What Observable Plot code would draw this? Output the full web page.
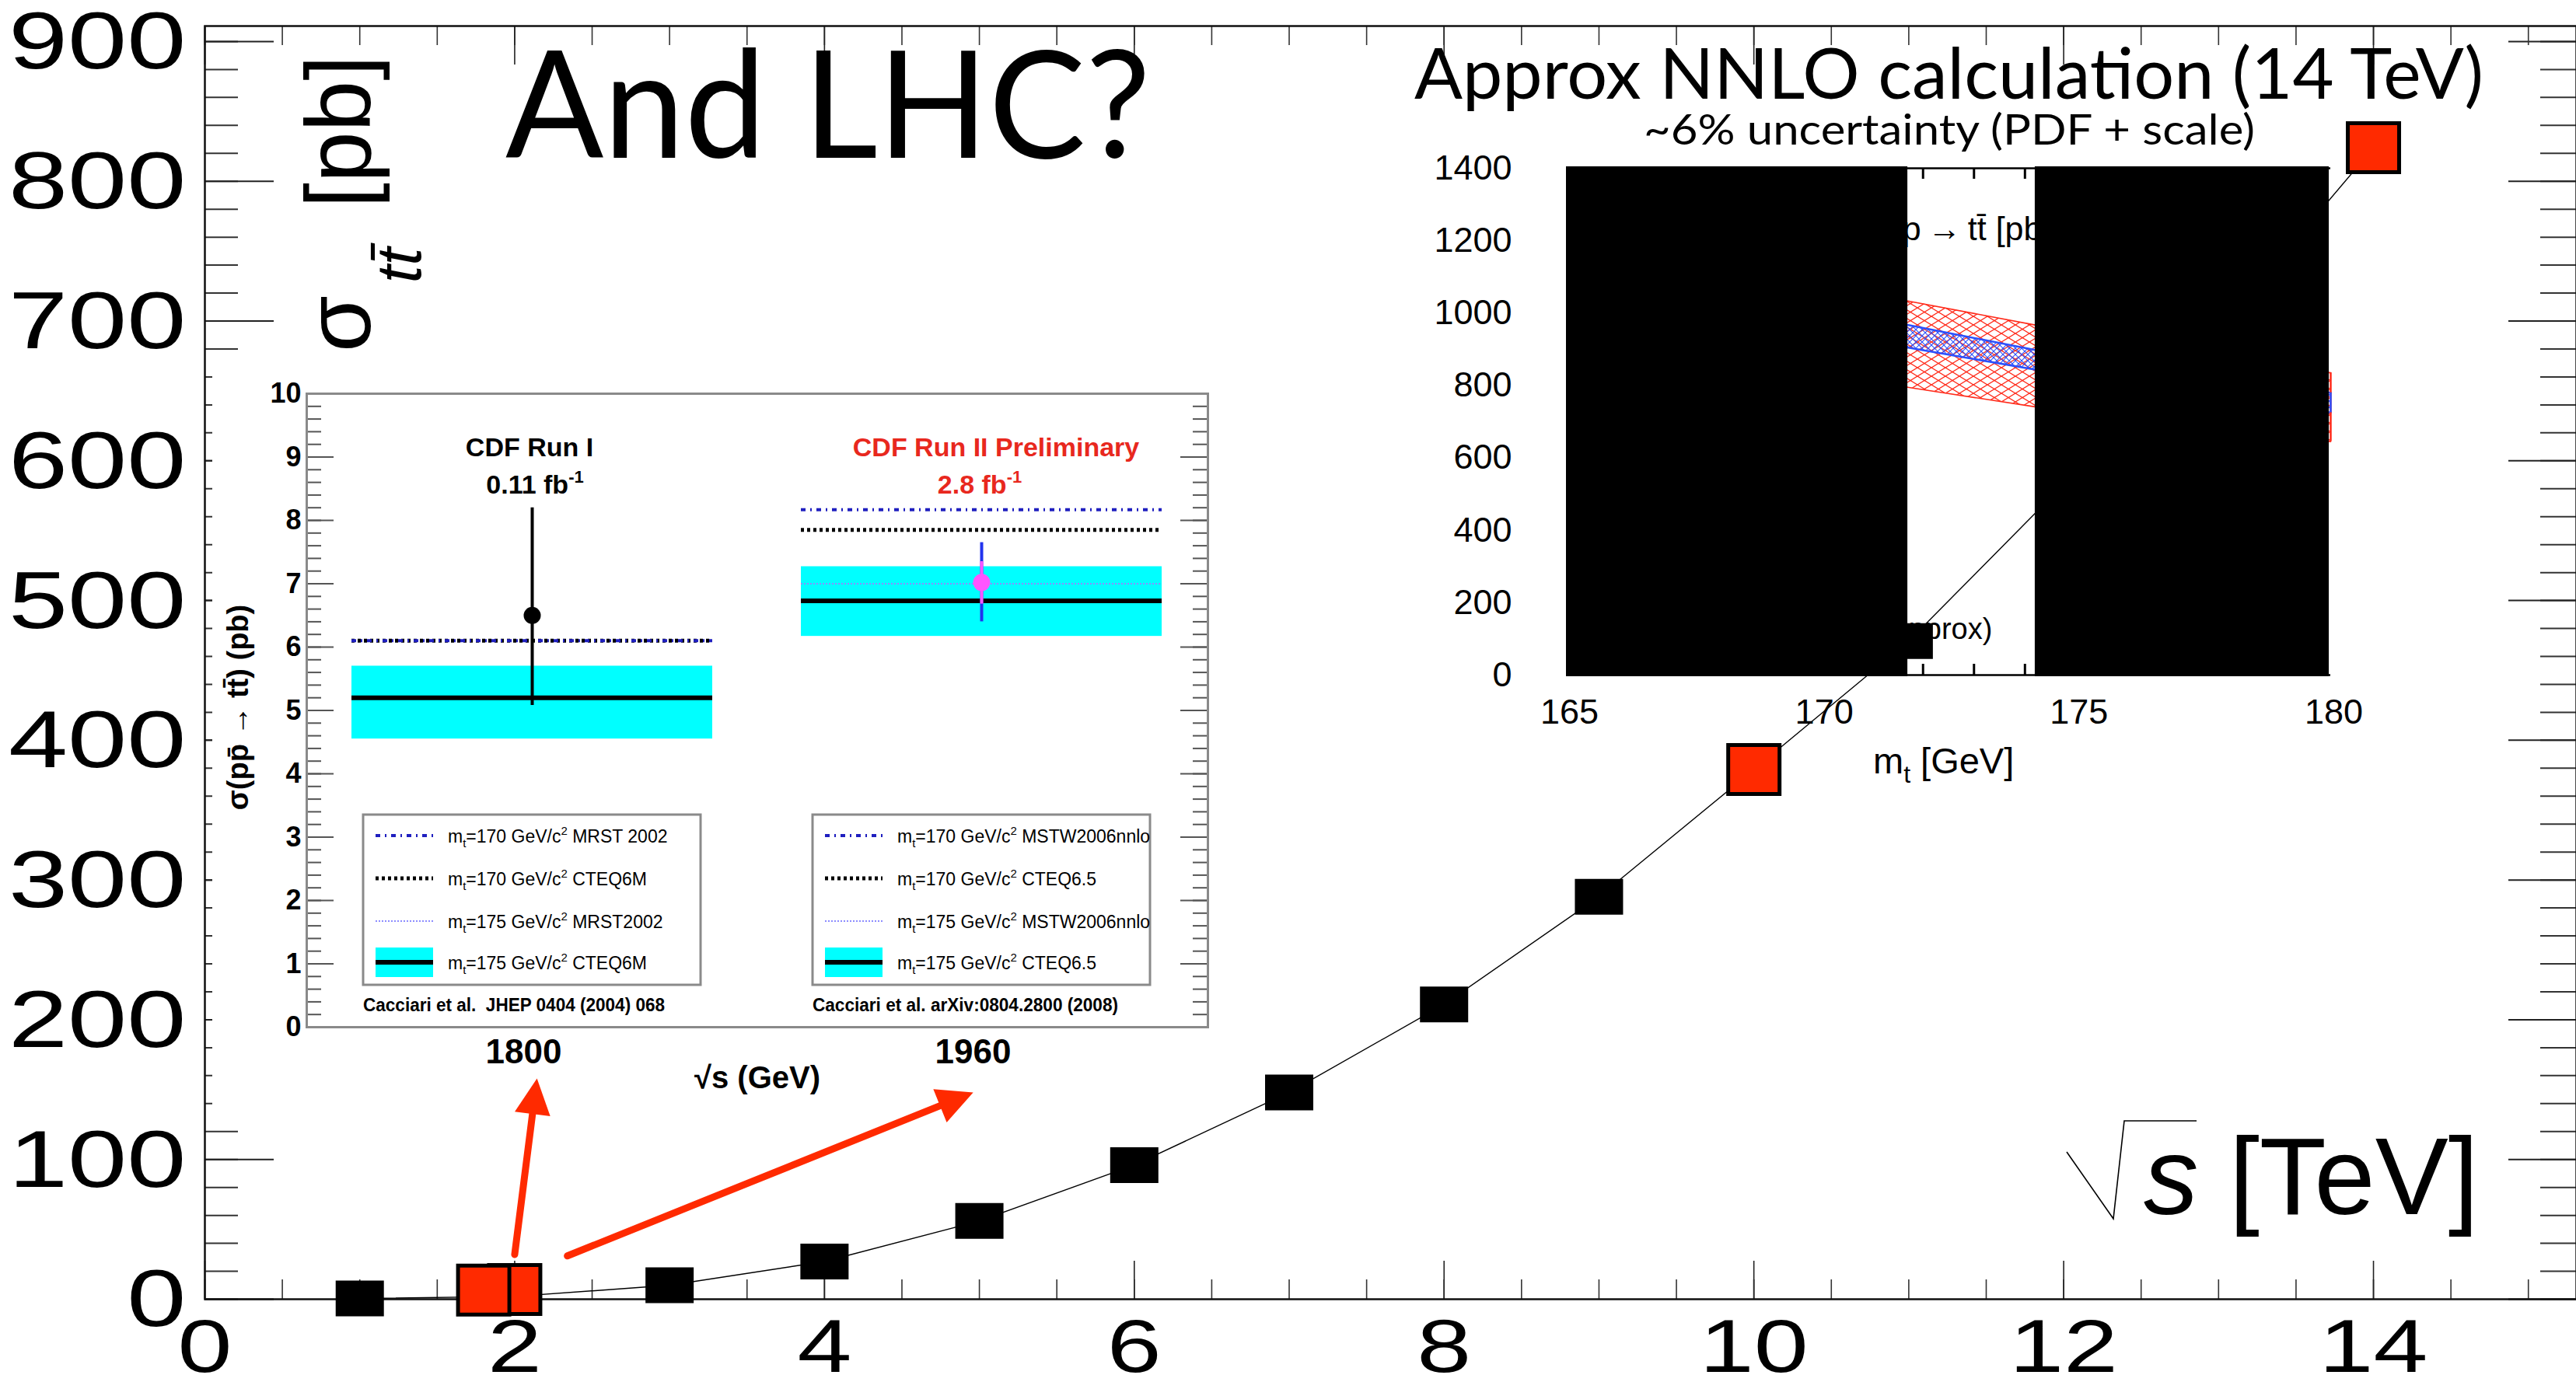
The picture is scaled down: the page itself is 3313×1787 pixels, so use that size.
<!DOCTYPE html>
<html>
<head>
<meta charset="utf-8">
<script src="https://cdn.jsdelivr.net/npm/d3@7"></script>
<script src="https://cdn.jsdelivr.net/npm/@observablehq/plot@0.6"></script>
<style>
  html, body { margin: 0; padding: 0; background: #fff; }
  #stage { position: relative; width: 3313px; height: 1787px; overflow: hidden; background: #fff; }
  #stage > svg { position: absolute; display: block; }
</style>
</head>
<body>
<svg width="0" height="0" style="position:absolute">
  <defs>
    <pattern id="scaleHatch" patternUnits="userSpaceOnUse" width="18" height="11">
      <path d="M0,0L18,11M0,11L18,0" stroke="#ff2a1a" stroke-width="1.3" fill="none"/>
    </pattern>
    <pattern id="pdfHatch" patternUnits="userSpaceOnUse" width="8" height="8">
      <path d="M0,0L8,8M0,8L8,0" stroke="#2a50ff" stroke-width="1.1" fill="none"/>
    </pattern>
  </defs>
</svg>
<div id="stage"></div>
<script>
// ---------------- main series: σ(pp → tt̄) versus √s ----------------
const energyTeV = [1, 2, 3, 4, 5, 6, 7, 8, 9, 10, 11, 12, 13, 14];
const sigmaPb   = [0.5, 2, 10, 27, 56, 96, 148, 211, 288, 379, 471, 583, 693, 824];

// highlighted points: Tevatron Run II, Run I, then 10 and 14 TeV
const markEnergy = [2.0, 1.8, 10, 14];
const markSigma  = [7.0, 6.5, 379, 824];

const xTickValues = [0, 2, 4, 6, 8, 10, 12, 14];
const yTickValues = [0, 100, 200, 300, 400, 500, 600, 700, 800, 900];

// red arrows from the Tevatron points to the CDF panel (TeV, pb)
const arrowX1 = [2.0, 2.34];
const arrowY1 = [32, 31];
const arrowX2 = [2.144, 4.96];
const arrowY2 = [158, 148];

// ---------------- CDF panel ----------------
const cdfEnergy = ["1800", "1960"];
const cteq175Lo = [4.55, 6.17];
const cteq175Hi = [5.7, 7.27];
const cteq175   = [5.2, 6.73];
const mrst175   = [5.2, 7.0];
const cteq170   = [6.1, 7.85];
const mrst170   = [6.1, 8.17];
const cdfSigma  = [6.5, 7.02];
const cdfErrLo  = [5.08, 6.4];
const cdfErrHi  = [8.2, 7.65];
const cdfStatLo = [null, 6.68];
const cdfStatHi = [null, 7.35];
const cdfYTicks = [0, 1, 2, 3, 4, 5, 6, 7, 8, 9, 10];
const legendRun1 = [["170", "MRST 2002"], ["170", "CTEQ6M"], ["175", "MRST2002"], ["175", "CTEQ6M"]];
const legendRun2 = [["170", "MSTW2006nnlo"], ["170", "CTEQ6.5"], ["175", "MSTW2006nnlo"], ["175", "CTEQ6.5"]];

// ---------------- approx NNLO panel (14 TeV) ----------------
const mtGeV   = [171.6, 174.2, 180];
const scaleLo = [797, 741, 645];
const scaleHi = [1036, 967, 835];
const pdfLo   = [907, 844, 725];
const pdfHi   = [970, 898, 780];
const hiddenFrom = [165, 174.2];
const hiddenTo   = [171.7, 179.97];
const nnloYTicks = [0, 200, 400, 600, 800, 1000, 1200, 1400];
const nnloXTicks = [165, 170, 175, 180];
const noteMt    = [174.52, 173.36];
const noteSigma = [1230, 127];

const RED = "#ff2a00";
const FONT = "'Liberation Sans', Arial, Helvetica, sans-serif";
const HUMANIST = "Lato, 'Open Sans', sans-serif";
const MAIN_Y_LABEL_SIZE = 103, MAIN_X_LABEL_SIZE = 96;

const stage = document.getElementById("stage");
function place(node, left, top) {
  node.style.left = left + "px";
  node.style.top = top + "px";
  stage.appendChild(node);
  return node;
}

// rectangle marker of fixed pixel size
const box = (w, h) => ({draw(ctx) {
  ctx.moveTo(-w / 2, -h / 2); ctx.lineTo(w / 2, -h / 2);
  ctx.lineTo(w / 2, h / 2); ctx.lineTo(-w / 2, h / 2); ctx.closePath();
}});
// arrow head with its tip at the origin, pointing up
const head = (w, l) => ({draw(ctx) {
  ctx.moveTo(0, 0); ctx.lineTo(w / 2, l); ctx.lineTo(-w / 2, l); ctx.closePath();
}});

// text with sub/superscript parts
function addText(parent, o, parts) {
  const t = d3.select(parent).append("text")
    .attr("transform", `translate(${o.x},${o.y})${o.rotate ? ` rotate(${o.rotate})` : ""}`)
    .attr("font-size", o.size)
    .attr("font-family", o.family || FONT)
    .attr("font-weight", o.weight || "normal")
    .attr("fill", o.fill || "#000")
    .attr("text-anchor", o.anchor || "start");
  if (o.style) t.attr("font-style", o.style);
  if (o.length) t.attr("textLength", o.length).attr("lengthAdjust", "spacingAndGlyphs");
  let shift = 0;
  for (const p of [].concat(parts)) {
    const q = typeof p === "string" ? {text: p} : p;
    const s = t.append("tspan").text(q.text);
    const ns = q.shift || 0;
    if (ns !== shift) s.attr("dy", ns - shift);
    shift = ns;
    if (q.size) s.attr("font-size", q.size);
    if (q.style) s.attr("font-style", q.style);
    if (q.dx) s.attr("dx", q.dx);
  }
  return t;
}

// widen the texts of a text mark (found by its font size) horizontally around their anchor
function widen(svg, fontSize, k) {
  svg.querySelectorAll("text").forEach(t => {
    const g = t.parentNode;
    if (!g || g.getAttribute("font-size") !== String(fontSize)) return;
    const tr = t.getAttribute("transform");
    if (tr) t.setAttribute("transform", `${tr} scale(${k},1)`);
    else {
      const x = parseFloat(t.getAttribute("x")) || 0, y = parseFloat(t.getAttribute("y")) || 0;
      t.removeAttribute("x"); t.removeAttribute("y");
      t.setAttribute("transform", `translate(${x},${y}) scale(${k},1)`);
    }
  });
}

// ================= main chart =================
const series = energyTeV.map((e, i) => ({e, s: sigmaPb[i]}));
const highlights = markEnergy.map((e, i) => ({e, s: markSigma[i]}));

const W = 3313, H = 1787, mL = 263, mR = 0, mT = 33, mB = 116;
const fW = W - mL - mR, fH = H - mT - mB;
const xMinor = d3.range(0, 15.3, 0.5);
const yMinor = d3.range(0, 911, 20);
const xDomain = [0, 15.31], yDomain = [0, 911.1];

const main = Plot.plot({
  width: W, height: H,
  marginLeft: mL, marginRight: mR, marginTop: mT, marginBottom: mB,
  x: {domain: xDomain, axis: null},
  y: {domain: yDomain, axis: null},
  style: {fontFamily: FONT, background: "transparent", overflow: "visible"},
  marks: [
    Plot.ruleY(yMinor, {y: d => d, insetRight: fW - 43, stroke: "#333", strokeWidth: 2}),
    Plot.ruleY(yTickValues, {y: d => d, insetRight: fW - 89, stroke: "#222", strokeWidth: 2}),
    Plot.ruleY(yMinor, {y: d => d, insetLeft: fW - 46, stroke: "#333", strokeWidth: 2}),
    Plot.ruleY(yTickValues, {y: d => d, insetLeft: fW - 87, stroke: "#222", strokeWidth: 2}),
    Plot.ruleX(xMinor, {x: d => d, insetBottom: fH - 25, stroke: "#333", strokeWidth: 1.6}),
    Plot.ruleX(xTickValues, {x: d => d, insetBottom: fH - 50, stroke: "#222", strokeWidth: 1.6}),
    Plot.ruleX(xMinor, {x: d => d, insetTop: fH - 25, stroke: "#333", strokeWidth: 1.6}),
    Plot.ruleX(xTickValues, {x: d => d, insetTop: fH - 49, stroke: "#222", strokeWidth: 1.6}),
    Plot.frame({stroke: "#111", strokeWidth: 2.5}),
    Plot.line(series, {x: "e", y: "s", stroke: "#000", strokeWidth: 1.4}),
    Plot.dot(series, {x: "e", y: "s", symbol: box(62, 46), r: 4, fill: "#000", stroke: "none"}),
    Plot.dot(highlights, {x: "e", y: "s", symbol: box(66, 63), r: 4, fill: RED, stroke: "#000", strokeWidth: 5}),
    Plot.text(yTickValues, {y: d => d, text: d => String(d), frameAnchor: "left", textAnchor: "end",
      dx: -24, dy: 2, fontSize: MAIN_Y_LABEL_SIZE, fill: "#000"}),
    Plot.text(xTickValues, {x: d => d, text: d => String(d), frameAnchor: "bottom", lineAnchor: "top",
      dy: 25, fontSize: MAIN_X_LABEL_SIZE, fill: "#000"})
  ]
});
widen(main, MAIN_Y_LABEL_SIZE, 1.33);
widen(main, MAIN_X_LABEL_SIZE, 1.31);

addText(main, {x: 650, y: 203, size: 193, family: HUMANIST, length: 830}, "And LHC?");
addText(main, {x: 476, y: 453, rotate: -90, size: 118},
  ["σ", {text: "tt̄", shift: 65, size: 82, style: "italic", dx: 16}, {text: " [pb]", shift: 0, dx: 18}]);
addText(main, {x: 2757, y: 1562, size: 141}, [{text: "s", style: "italic"}, " [TeV]"]);
d3.select(main).append("path")
  .attr("d", "M2658,1482L2718,1568L2732,1442L2825,1442")
  .attr("fill", "none").attr("stroke", "#000").attr("stroke-width", 1.6);
place(main, 0, 0);

// ================= approx NNLO panel =================
const nnloRows = mtGeV.map((m, i) => ({m, lo: scaleLo[i], hi: scaleHi[i], plo: pdfLo[i], phi: pdfHi[i]}));
const hiddenRows = hiddenFrom.map((a, i) => ({a, b: hiddenTo[i]}));
const nW = 1400, nH = 1030, nL = 214, nR = 203, nT = 216, nB = 162;
const nFH = nH - nT - nB;
const mtMinor = d3.range(166, 180, 1);

const nnlo = Plot.plot({
  width: nW, height: nH, marginLeft: nL, marginRight: nR, marginTop: nT, marginBottom: nB,
  x: {domain: [165, 180]},
  y: {domain: [0, 1400]},
  style: {fontFamily: FONT, background: "transparent", overflow: "visible"},
  marks: [
    Plot.areaY(nnloRows, {x: "m", y1: "lo", y2: "hi", fill: "url(#scaleHatch)"}),
    Plot.line(nnloRows, {x: "m", y: "lo", stroke: "#ff2a1a", strokeWidth: 1.6}),
    Plot.line(nnloRows, {x: "m", y: "hi", stroke: "#ff2a1a", strokeWidth: 1.6}),
    Plot.areaY(nnloRows, {x: "m", y1: "plo", y2: "phi", fill: "url(#pdfHatch)"}),
    Plot.line(nnloRows, {x: "m", y: "plo", stroke: "#2a50ff", strokeWidth: 2.5}),
    Plot.line(nnloRows, {x: "m", y: "phi", stroke: "#2a50ff", strokeWidth: 2.5}),
    Plot.ruleY([0, 1400], {stroke: "#000", strokeWidth: 2.5}),
    Plot.ruleX(mtMinor, {x: d => d, insetBottom: nFH - 14, stroke: "#000", strokeWidth: 3}),
    Plot.ruleX(mtMinor, {x: d => d, insetTop: nFH - 14, stroke: "#000", strokeWidth: 3}),
    Plot.text(["σ pp\u2009→\u2009tt̄ [pb]"], {x: noteMt[0], y: noteSigma[0], textAnchor: "end", fontSize: 43}),
    Plot.text(["NNLO (approx)"], {x: noteMt[1], y: noteSigma[1], textAnchor: "end", fontSize: 38}),
    Plot.rect(hiddenRows, {x1: "a", x2: "b", y1: 0, y2: 1400, fill: "#000", insetTop: -2, insetBottom: -2}),
    Plot.ruleX(nnloRows.slice(-1), {x: "m", y1: "lo", y2: "hi", stroke: "#ff2a1a", strokeWidth: 2.5}),
    Plot.ruleX(nnloRows.slice(-1), {x: "m", y1: "plo", y2: "phi", stroke: "#2a50ff", strokeWidth: 2.5}),
    Plot.axisY({ticks: nnloYTicks, tickFormat: d => String(d), tickSize: 0, tickPadding: 70, fontSize: 45, label: null}),
    Plot.axisX({ticks: nnloXTicks, tickFormat: d => String(d), tickSize: 0, tickPadding: 31, fontSize: 45, label: null, dx: 4})
  ]
});
addText(nnlo, {x: 19, y: 127, size: 91, family: HUMANIST, length: 1375}, "Approx NNLO calculation (14 TeV)");
addText(nnlo, {x: 314, y: 186, size: 54, family: HUMANIST, length: 786}, "~6% uncertainty (PDF + scale)");
addText(nnlo, {x: 609, y: 995, size: 47}, ["m", {text: "t", shift: 12, size: 32}, {text: " [GeV]", shift: 0}]);
place(nnlo, 1800, 0);

// ================= CDF panel =================
const cdfRows = cdfEnergy.map((e, i) => ({
  e, lo: cteq175Lo[i], hi: cteq175Hi[i], c175: cteq175[i], m175: mrst175[i],
  c170: cteq170[i], m170: mrst170[i], s: cdfSigma[i], elo: cdfErrLo[i], ehi: cdfErrHi[i],
  slo: cdfStatLo[i], shi: cdfStatHi[i]
}));
const runI = cdfRows.filter(d => d.e === "1800");
const runII = cdfRows.filter(d => d.e === "1960");
const cW = 1300, cH = 980, cL = 121, cR = 20, cT = 51, cB = 114;
const cFW = cW - cL - cR;
const cdfMinor = d3.range(0, 10.01, 0.2);
const BLUE = "#1f1fbf", LAVENDER = "#8c8cff", CYAN = "#00ffff";

const cdf = Plot.plot({
  width: cW, height: cH, marginLeft: cL, marginRight: cR, marginTop: cT, marginBottom: cB,
  x: {type: "band", domain: cdfEnergy, paddingInner: 0.197, paddingOuter: 0.101},
  y: {domain: [0, 10]},
  style: {fontFamily: FONT, background: "#fff", overflow: "visible"},
  marks: [
    Plot.barY(cdfRows, {x: "e", y1: "lo", y2: "hi", fill: CYAN}),
    Plot.tickY(cdfRows, {x: "e", y: "m175", stroke: LAVENDER, strokeWidth: 2, strokeDasharray: "2,2"}),
    Plot.tickY(cdfRows, {x: "e", y: "c175", stroke: "#000", strokeWidth: 6}),
    Plot.tickY(cdfRows, {x: "e", y: "c170", stroke: "#000", strokeWidth: 5, strokeDasharray: "4,4"}),
    Plot.tickY(cdfRows, {x: "e", y: "m170", stroke: BLUE, strokeWidth: 4, strokeDasharray: "6,6,2,6"}),
    Plot.ruleX(runI, {x: "e", y1: "elo", y2: "ehi", stroke: "#000", strokeWidth: 4}),
    Plot.ruleX(runII, {x: "e", y1: "elo", y2: "ehi", stroke: "#2233ee", strokeWidth: 4}),
    Plot.ruleX(runII, {x: "e", y1: "slo", y2: "shi", stroke: "#ff55ff", strokeWidth: 4}),
    Plot.dot(runI, {x: "e", y: "s", r: 11, fill: "#000"}),
    Plot.dot(runII, {x: "e", y: "s", r: 11, fill: "#ff55ff"}),
    Plot.ruleY(cdfMinor, {y: d => d, insetRight: cFW - 19, stroke: "#555", strokeWidth: 2}),
    Plot.ruleY(cdfYTicks, {y: d => d, insetRight: cFW - 35, stroke: "#555", strokeWidth: 2}),
    Plot.ruleY(cdfMinor, {y: d => d, insetLeft: cFW - 19, stroke: "#555", strokeWidth: 2}),
    Plot.ruleY(cdfYTicks, {y: d => d, insetLeft: cFW - 35, stroke: "#555", strokeWidth: 2}),
    Plot.frame({stroke: "#8a8a8a", strokeWidth: 3}),
    Plot.axisY({ticks: cdfYTicks, tickSize: 0, tickPadding: 7, fontSize: 36, fontWeight: "bold", label: null}),
    Plot.axisX({tickSize: 0, tickPadding: 15, fontSize: 44, fontWeight: "bold", label: null, dx: -11}),
    Plot.text(["σ(pp̄ → tt̄) (pb)"], {frameAnchor: "left", textAnchor: "middle", rotate: -90, dx: -88, dy: -4,
      fontSize: 38, fontWeight: "bold"}),
    Plot.text(["√s (GeV)"], {frameAnchor: "bottom", lineAnchor: "middle", dy: 66, fontSize: 40, fontWeight: "bold"})
  ]
});

addText(cdf, {x: 408, y: 132, size: 34, weight: "bold", anchor: "middle"}, "CDF Run I");
addText(cdf, {x: 415, y: 180, size: 34, weight: "bold", anchor: "middle"}, ["0.11 fb", {text: "-1", shift: -14, size: 22}]);
addText(cdf, {x: 1008, y: 132, size: 34, weight: "bold", anchor: "middle", fill: "#e8281e"}, "CDF Run II Preliminary");
addText(cdf, {x: 987, y: 180, size: 34, weight: "bold", anchor: "middle", fill: "#e8281e"}, ["2.8 fb", {text: "-1", shift: -14, size: 22}]);

const legendRowY = [620, 675, 730, 783];
function legendBox(x0, entries) {
  const g = d3.select(cdf).append("g");
  g.append("rect").attr("x", x0).attr("y", 593).attr("width", 434).attr("height", 219)
    .attr("fill", "#fff").attr("stroke", "#8a8a8a").attr("stroke-width", 3);
  const a = x0 + 16, b = x0 + 90;
  const seg = (y, stroke, w, dash) => g.append("line").attr("x1", a).attr("x2", b).attr("y1", y).attr("y2", y)
    .attr("stroke", stroke).attr("stroke-width", w).attr("stroke-dasharray", dash || null);
  seg(legendRowY[0], BLUE, 4, "6,6,2,6");
  seg(legendRowY[1], "#000", 5, "4,4");
  seg(legendRowY[2], LAVENDER, 2, "2,2");
  g.append("rect").attr("x", a).attr("y", legendRowY[3] - 19).attr("width", b - a).attr("height", 38).attr("fill", CYAN);
  seg(legendRowY[3], "#000", 6);
  entries.forEach((n, i) => addText(cdf, {x: x0 + 109, y: legendRowY[i] + 9, size: 23},
    ["m", {text: "t", shift: 6, size: 15}, {text: `=${n[0]} GeV/c`, shift: 0}, {text: "2", shift: -10, size: 15}, {text: ` ${n[1]}`, shift: 0}]));
}
legendBox(194, legendRun1);
legendBox(772, legendRun2);
addText(cdf, {x: 194, y: 846, size: 24, weight: "bold", length: 388}, "Cacciari et al.  JHEP 0404 (2004) 068");
addText(cdf, {x: 772, y: 846, size: 24, weight: "bold", length: 393}, "Cacciari et al. arXiv:0804.2800 (2008)");
place(cdf, 273, 455);

// ================= arrows on top =================
const sx = main.scale("x"), sy = main.scale("y");
const arrowRows = arrowX1.map((x1, i) => {
  const r = {x1, y1: arrowY1[i], x2: arrowX2[i], y2: arrowY2[i]};
  r.angle = Math.atan2(sx.apply(r.x2) - sx.apply(r.x1), -(sy.apply(r.y2) - sy.apply(r.y1))) * 180 / Math.PI;
  return r;
});
const arrows = Plot.plot({
  width: W, height: H, marginLeft: mL, marginRight: mR, marginTop: mT, marginBottom: mB,
  x: {domain: xDomain, axis: null},
  y: {domain: yDomain, axis: null},
  style: {background: "transparent", overflow: "visible", pointerEvents: "none"},
  marks: [
    Plot.arrow(arrowRows, {x1: "x1", y1: "y1", x2: "x2", y2: "y2", stroke: RED, strokeWidth: 9, headLength: 0, insetEnd: 30}),
    Plot.dot(arrowRows, {x: "x2", y: "y2", symbol: head(46, 46), r: 4, fill: RED, stroke: "none", rotate: "angle"})
  ]
});
place(arrows, 0, 0);
</script>
</body>
</html>
